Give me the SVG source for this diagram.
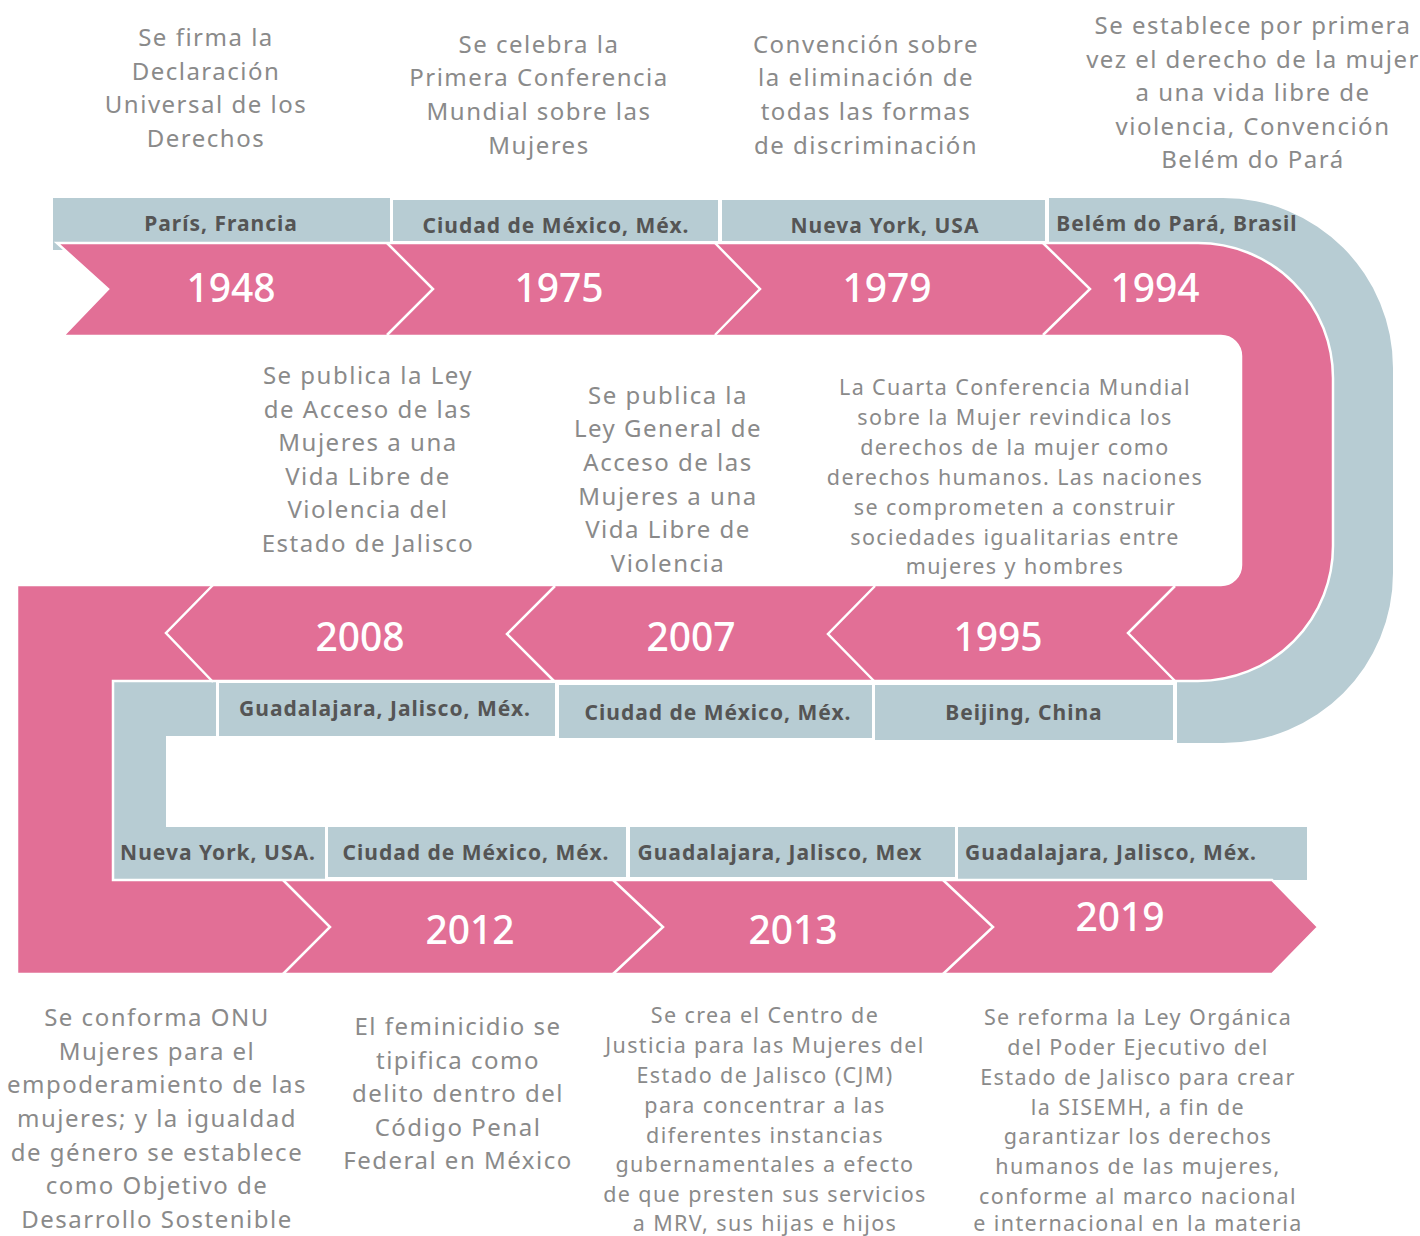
<svg xmlns="http://www.w3.org/2000/svg" width="1420" height="1236" viewBox="0 0 1420 1236">
<style>
.grey{fill:#B7CCD3}
.pink{fill:#E26F96;stroke:#FFFFFF;stroke-width:2.5;stroke-linejoin:miter}
.sep{fill:none;stroke:#FFFFFF;stroke-width:2.5}
.desc{font-family:"Noto Sans","Liberation Sans",sans-serif;font-size:24px;fill:#8A8A8A;text-anchor:middle;letter-spacing:1.5px}
.small{font-family:"Noto Sans","Liberation Sans",sans-serif;font-size:21.5px;fill:#8A8A8A;text-anchor:middle;letter-spacing:1.4px}
.place{font-family:"Noto Sans","Liberation Sans",sans-serif;font-size:21px;font-weight:bold;fill:#555555;text-anchor:middle;letter-spacing:1px}
.year{font-family:"Noto Sans","Liberation Sans",sans-serif;font-size:39px;font-weight:500;fill:#FFFFFF;text-anchor:middle}
</style>
<rect width="1420" height="1236" fill="#FFFFFF"/>
<g id="band-grey">
<rect class="grey" x="53" y="198" width="337" height="52"/>
<rect class="grey" x="393" y="200" width="325" height="41"/>
<rect class="grey" x="722" y="200" width="323" height="41"/>
<path class="grey" d="M1049 198 H1223 A170 170 0 0 1 1393 368 V573 A170 170 0 0 1 1223 743 H1177 V660 H1270 V300 H1049 Z"/>
<rect class="grey" x="219" y="683" width="336" height="53"/>
<rect class="grey" x="559" y="685" width="313" height="53"/>
<rect class="grey" x="875" y="685" width="298" height="55"/>
<rect class="grey" x="113" y="682" width="103" height="54"/>
<rect class="grey" x="113" y="682" width="53" height="200"/>
<rect class="grey" x="113" y="827" width="212" height="55"/>
<rect class="grey" x="328" y="827" width="298" height="50"/>
<rect class="grey" x="630" y="827" width="325" height="50"/>
<rect class="grey" x="958" y="827" width="349" height="53"/>
</g>
<g id="band-pink">
<path class="pink" d="M57 243 H1198 A135 135 0 0 1 1333 378 V545 A135 135 0 0 1 1198 681 H113 V880 H1272 L1318 927 L1272 974 H17 V585 H1221 A20 20 0 0 0 1241 565 V356 A20 20 0 0 0 1221 336 H63 L108 289 Z"/>
</g>
<g id="connectors">
<polyline class="sep" points="387,243 433,289 387,335"/>
<polyline class="sep" points="715,243 760,289 715,335"/>
<polyline class="sep" points="1043,243 1090,289 1043,335"/>
<polyline class="sep" points="1175,586 1128,633 1175,681"/>
<polyline class="sep" points="875,586 828,634 875,682"/>
<polyline class="sep" points="555,586 507,634 555,682"/>
<polyline class="sep" points="213,585 166,633 213,682"/>
<polyline class="sep" points="283,880 330,927 283,974"/>
<polyline class="sep" points="613,880 663,927 613,974"/>
<polyline class="sep" points="943,880 993,927 943,974"/>
</g>
<g id="n1948">
<text class="year" x="231" y="302">1948</text>
<text class="place" x="221" y="231">París, Francia</text>
<text class="desc"><tspan x="206" y="46">Se firma la</tspan><tspan x="206" y="80">Declaración</tspan><tspan x="206" y="113">Universal de los</tspan><tspan x="206" y="147">Derechos</tspan></text>
</g>
<g id="n1975">
<text class="year" x="559" y="302">1975</text>
<text class="place" x="556" y="233">Ciudad de México, Méx.</text>
<text class="desc"><tspan x="539" y="53">Se celebra la</tspan><tspan x="539" y="86">Primera Conferencia</tspan><tspan x="539" y="120">Mundial sobre las</tspan><tspan x="539" y="154">Mujeres</tspan></text>
</g>
<g id="n1979">
<text class="year" x="887" y="302">1979</text>
<text class="place" x="885" y="233">Nueva York,  USA</text>
<text class="desc"><tspan x="866" y="53">Convención sobre</tspan><tspan x="866" y="86">la eliminación de</tspan><tspan x="866" y="120">todas las formas</tspan><tspan x="866" y="154">de discriminación</tspan></text>
</g>
<g id="n1994">
<text class="year" x="1155" y="302">1994</text>
<text class="place" x="1177" y="231">Belém do Pará, Brasil</text>
<text class="desc"><tspan x="1253" y="34">Se establece por primera</tspan><tspan x="1253" y="68">vez el derecho de la mujer</tspan><tspan x="1253" y="101">a una vida libre de</tspan><tspan x="1253" y="135">violencia, Convención</tspan><tspan x="1253" y="168">Belém do Pará</tspan></text>
</g>
<g id="n1995">
<text class="year" x="998" y="651">1995</text>
<text class="place" x="1024" y="720">Beijing, China</text>
<text class="small"><tspan x="1015" y="395">La Cuarta Conferencia Mundial</tspan><tspan x="1015" y="425">sobre la Mujer revindica los</tspan><tspan x="1015" y="455">derechos de la mujer como</tspan><tspan x="1015" y="485">derechos humanos. Las naciones</tspan><tspan x="1015" y="515">se comprometen a construir</tspan><tspan x="1015" y="545">sociedades igualitarias entre</tspan><tspan x="1015" y="574">mujeres y hombres</tspan></text>
</g>
<g id="n2007">
<text class="year" x="691" y="651">2007</text>
<text class="place" x="718" y="720">Ciudad de México, Méx.</text>
<text class="desc"><tspan x="668" y="404">Se publica la</tspan><tspan x="668" y="437">Ley General de</tspan><tspan x="668" y="471">Acceso de las</tspan><tspan x="668" y="505">Mujeres a una</tspan><tspan x="668" y="538">Vida Libre de</tspan><tspan x="668" y="572">Violencia</tspan></text>
</g>
<g id="n2008">
<text class="year" x="360" y="651">2008</text>
<text class="place" x="385" y="716">Guadalajara, Jalisco, Méx.</text>
<text class="desc"><tspan x="368" y="384">Se publica la Ley</tspan><tspan x="368" y="418">de Acceso de las</tspan><tspan x="368" y="451">Mujeres a una</tspan><tspan x="368" y="485">Vida Libre de</tspan><tspan x="368" y="518">Violencia del</tspan><tspan x="368" y="552">Estado de Jalisco</tspan></text>
</g>
<g id="nONU">
<text class="place" x="218" y="860">Nueva York, USA.</text>
<text class="desc"><tspan x="157" y="1026">Se conforma ONU</tspan><tspan x="157" y="1060">Mujeres para el</tspan><tspan x="157" y="1093">empoderamiento de las</tspan><tspan x="157" y="1127">mujeres; y la igualdad</tspan><tspan x="157" y="1161">de género se establece</tspan><tspan x="157" y="1194">como Objetivo de</tspan><tspan x="157" y="1228">Desarrollo Sostenible</tspan></text>
</g>
<g id="n2012">
<text class="year" x="470" y="944">2012</text>
<text class="place" x="476" y="860">Ciudad de México, Méx.</text>
<text class="desc"><tspan x="458" y="1035">El feminicidio se</tspan><tspan x="458" y="1069">tipifica como</tspan><tspan x="458" y="1102">delito dentro del</tspan><tspan x="458" y="1136">Código Penal</tspan><tspan x="458" y="1169">Federal en México</tspan></text>
</g>
<g id="n2013">
<text class="year" x="793" y="944">2013</text>
<text class="place" x="780" y="860">Guadalajara, Jalisco, Mex</text>
<text class="small"><tspan x="765" y="1023">Se crea el Centro de</tspan><tspan x="765" y="1053">Justicia para las Mujeres del</tspan><tspan x="765" y="1083">Estado de Jalisco (CJM)</tspan><tspan x="765" y="1113">para concentrar a las</tspan><tspan x="765" y="1143">diferentes instancias</tspan><tspan x="765" y="1172">gubernamentales a efecto</tspan><tspan x="765" y="1202">de que presten sus servicios</tspan><tspan x="765" y="1231">a MRV, sus hijas e hijos</tspan></text>
</g>
<g id="n2019">
<text class="year" x="1120" y="931">2019</text>
<text class="place" x="1111" y="860">Guadalajara, Jalisco, Méx.</text>
<text class="small"><tspan x="1138" y="1025">Se reforma la Ley Orgánica</tspan><tspan x="1138" y="1055">del Poder Ejecutivo del</tspan><tspan x="1138" y="1085">Estado de Jalisco para crear</tspan><tspan x="1138" y="1115">la SISEMH, a fin de</tspan><tspan x="1138" y="1144">garantizar los derechos</tspan><tspan x="1138" y="1174">humanos de las mujeres,</tspan><tspan x="1138" y="1204">conforme al marco nacional</tspan><tspan x="1138" y="1231">e internacional en la materia</tspan></text>
</g>
</svg>
